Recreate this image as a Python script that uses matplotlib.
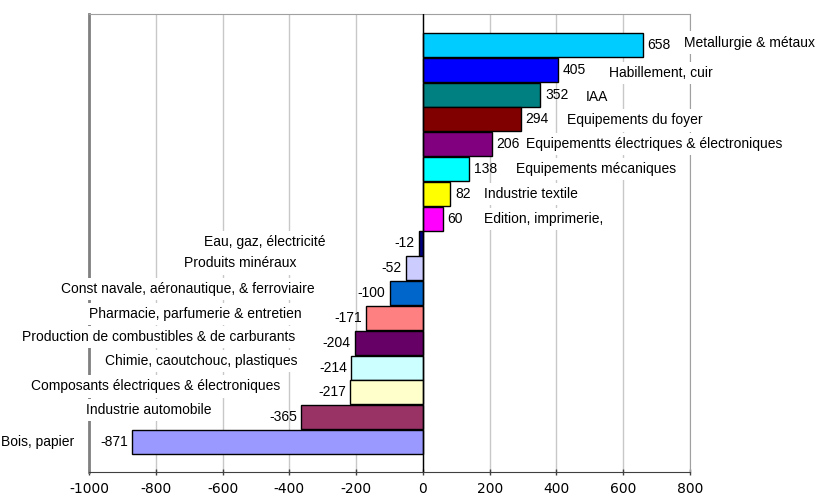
import numpy as np
import matplotlib.pyplot as plt

# categories from top to bottom and their values
categories = ["Metallurgie & métaux", "Habillement, cuir", "IAA", "Equipements du foyer",
              "Equipementts électriques & électroniques", "Equipements mécaniques",
              "Industrie textile", "Edition, imprimerie,", "Eau, gaz, électricité",
              "Produits minéraux", "Const navale, aéronautique, & ferroviaire",
              "Pharmacie, parfumerie & entretien", "Production de combustibles & de carburants",
              "Chimie, caoutchouc, plastiques", "Composants électriques & électroniques",
              "Industrie automobile", "Bois, papier"]
values = [658, 405, 352, 294, 206, 138, 82, 60, -12, -52, -100, -171, -204, -214, -217, -365, -871]
value_labels = ["658", "405", "352", "294", "206", "138", "82", "60", "-12", "-52", "-100",
                "-171", "-204", "-214", "-217", "-365", "-871"]
colors = ["#00CCFF", "#0000FF", "#008080", "#800000", "#800080", "#00FFFF", "#FFFF00", "#FF00FF",
          "#000080", "#CCCCFF", "#0066CC", "#FF8080", "#660066", "#CCFFFF", "#FFFFCC", "#993366",
          "#9999FF"]
xticks = [-1000, -800, -600, -400, -200, 0, 200, 400, 600, 800]

# where the category labels sit (x anchor in data units, y shift in bar units)
label_x = [782, 557, 488, 431, 308, 279, 183, 183, -293, -380, -323, -362, -383, -377, -428, -632, -1045]
label_dy = [-0.1, 0.12, 0.1, 0.04, 0, 0, 0, 0, -0.06, -0.2, -0.16, -0.16, -0.24, -0.26, -0.24, -0.28, 0]

plt.rcParams['font.family'] = ['Liberation Sans', 'DejaVu Sans']

fig = plt.figure(figsize=(8.17, 4.97), dpi=100)
ax = fig.add_axes([89 / 817, 1 - 472 / 497, 601 / 817, 458 / 497])

ypos = np.arange(len(values))
ax.barh(ypos, values, height=0.97, color=colors, edgecolor='black', linewidth=1, zorder=3)

# value labels next to the end of each bar, category labels further out
for i, v in enumerate(values):
    if v >= 0:
        ax.text(v + 14, i, value_labels[i], ha='left', va='center', fontsize=10, zorder=4)
        ax.text(label_x[i], i + label_dy[i], categories[i], ha='left', va='center', fontsize=10,
                zorder=4, clip_on=False,
                bbox=dict(facecolor='white', edgecolor='none', pad=3))
    else:
        ax.text(v - 12, i, value_labels[i], ha='right', va='center', fontsize=10, zorder=4)
        ax.text(label_x[i], i + label_dy[i], categories[i], ha='right', va='center', fontsize=10,
                zorder=4, clip_on=False,
                bbox=dict(facecolor='white', edgecolor='none', pad=3))

ax.set_xlim(-1000, 800)
ax.set_ylim(len(values) - 1 + 1.21, -1.25)
ax.set_xticks(xticks)
ax.set_xticklabels([str(t) for t in xticks], family='DejaVu Sans', fontsize=10)
ax.set_yticks([])
ax.tick_params(axis='x', direction='inout', length=5, width=1, color='#404040', pad=5)

# grey vertical gridlines, black line at zero
ax.grid(axis='x', color='#C8C8C8', linewidth=1, zorder=0)
ax.axvline(0, color='black', linewidth=1, zorder=3.5)

ax.spines['left'].set_color('#808080')
ax.spines['left'].set_linewidth(2)
ax.spines['top'].set_color('#A0A0A0')
ax.spines['right'].set_color('#A0A0A0')
ax.spines['bottom'].set_color('#404040')

plt.savefig('out.png', dpi=100)
